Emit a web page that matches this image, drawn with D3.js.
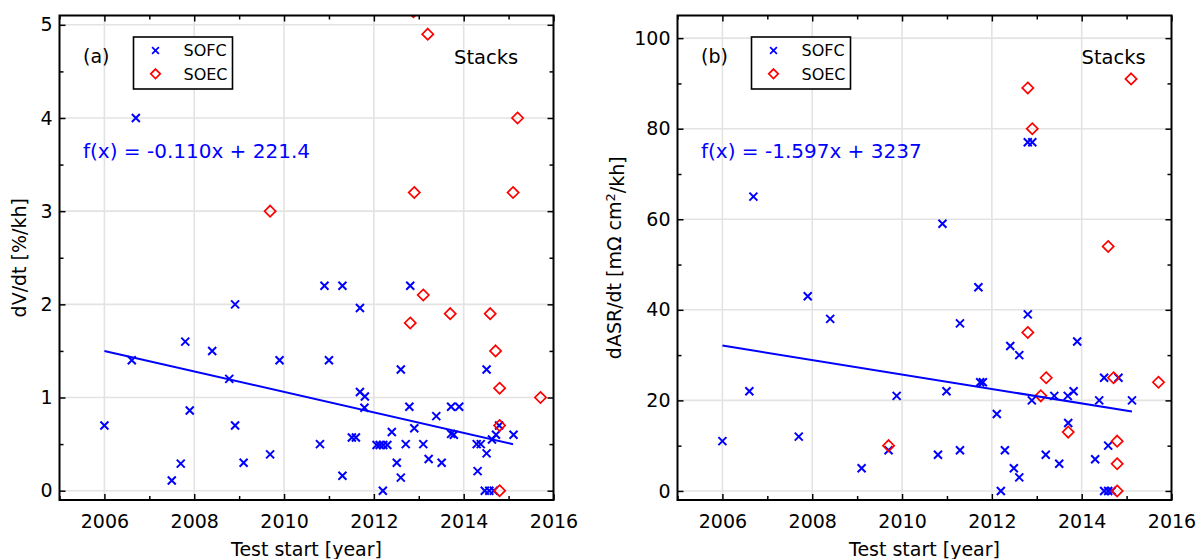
<!DOCTYPE html>
<html>
<head>
<meta charset="utf-8">
<script src="https://cdn.jsdelivr.net/npm/d3@7"></script>
<style>
body { margin: 0; background: #fff; }
text { font-family: "DejaVu Sans", sans-serif; }
</style>
</head>
<body>
<svg id="chart" width="1197" height="559"></svg>
<script>
"use strict";

// x axis (test start year), shared by both panels
var yearDomain = [2005, 2016];
var yearTicks = [2006, 2008, 2010, 2012, 2014, 2016];
var yearMinor = [2005, 2007, 2009, 2011, 2013, 2015];

// panel (a): voltage degradation dV/dt [%/kh]
var dvDomain = [-0.1, 5.1];
var dvTicks = [0, 1, 2, 3, 4, 5];
var dvMinor = [0.5, 1.5, 2.5, 3.5, 4.5];

var dvSofc = [
    [2006.00, 0.70], [2006.61, 1.40], [2006.70, 4.00], [2007.50, 0.11],
    [2007.70, 0.29], [2007.80, 1.60], [2007.90, 0.86], [2008.40, 1.50],
    [2008.78, 1.20], [2008.91, 2.00], [2008.91, 0.70], [2009.10, 0.30],
    [2009.69, 0.39], [2009.90, 1.40], [2010.80, 0.50], [2010.90, 2.20],
    [2011.00, 1.40], [2011.30, 2.20], [2011.30, 0.16], [2011.51, 0.57],
    [2011.60, 0.57], [2011.69, 1.96], [2011.69, 1.06], [2011.80, 1.01],
    [2011.79, 0.89], [2012.06, 0.49], [2012.13, 0.49], [2012.21, 0.49],
    [2012.30, 0.49], [2012.20, 0.00], [2012.40, 0.63], [2012.51, 0.30],
    [2012.60, 1.30], [2012.60, 0.14], [2012.71, 0.50], [2012.81, 2.20],
    [2012.79, 0.90], [2012.90, 0.67], [2013.10, 0.50], [2013.22, 0.34],
    [2013.39, 0.80], [2013.51, 0.30], [2013.72, 0.90], [2013.90, 0.90],
    [2013.72, 0.61], [2013.78, 0.60], [2014.29, 0.50], [2014.38, 0.50],
    [2014.31, 0.21], [2014.51, 0.40], [2014.51, 1.30], [2014.63, 0.55],
    [2014.72, 0.60], [2014.79, 0.70], [2014.47, 0.00], [2014.57, 0.00],
    [2014.67, 0.00], [2015.11, 0.60]
];

var dvSoec = [
    [2009.69, 3.00], [2012.81, 1.80], [2012.90, 3.20], [2012.88, 5.14],
    [2013.10, 2.10], [2013.20, 4.90], [2013.70, 1.90], [2014.59, 1.90],
    [2014.71, 1.50], [2014.80, 1.10], [2014.80, 0.70], [2014.80, 0.00],
    [2015.10, 3.20], [2015.20, 4.00], [2015.71, 1.00]
];

// linear fit: slope, start year / value, end year
var dvFit = [-0.110, 2006, 1.50, 2015.1];

// panel (b): area specific resistance degradation dASR/dt
var asrDomain = [-2, 105];
var asrTicks = [0, 20, 40, 60, 80, 100];
var asrMinor = [10, 30, 50, 70, 90];

var asrSofc = [
    [2006.00, 11], [2006.60, 22], [2006.69, 65], [2007.70, 12],
    [2007.90, 43], [2008.40, 38], [2009.10, 5], [2009.70, 9],
    [2009.88, 21], [2010.80, 8], [2010.90, 59], [2010.99, 22],
    [2011.29, 37], [2011.29, 9], [2011.70, 45], [2011.74, 24],
    [2011.80, 24], [2012.11, 17], [2012.20, 0], [2012.29, 9],
    [2012.41, 32], [2012.49, 5], [2012.61, 30], [2012.61, 3],
    [2012.80, 39], [2012.80, 77], [2012.90, 77], [2012.89, 20],
    [2013.20, 8], [2013.39, 21], [2013.50, 6], [2013.69, 21],
    [2013.70, 15], [2013.82, 22], [2013.90, 33], [2014.30, 7],
    [2014.39, 20], [2014.50, 25], [2014.82, 25], [2014.59, 10],
    [2014.50, 0], [2014.59, 0], [2014.67, 0], [2015.12, 20]
];

var asrSoec = [
    [2009.70, 10], [2012.80, 89], [2012.90, 80], [2012.80, 35],
    [2013.09, 21], [2013.21, 25], [2013.70, 13], [2014.59, 54],
    [2014.71, 25], [2014.79, 11], [2014.79, 6], [2014.79, 0],
    [2015.10, 91], [2015.71, 24]
];

var asrFit = [-1.597, 2006, 32.1, 2015.12];

var legendLabels = ['SOFC', 'SOEC'];

var BLUE = '#0000ff';
var RED = '#ff0000';
var CROSS = 'M-4,-4L4,4M4,-4L-4,4';
var DIAMOND = 'M0,-5.6L5.6,0L0,5.6L-5.6,0Z';

var svg = d3.select('#chart');

function drawPanel(o) {
    var w = o.width, h = o.height;
    var g = svg.append('g').attr('transform', `translate(${o.left},${o.top})`);

    var x = d3.scaleLinear().domain(yearDomain).range([0, w]);
    var y = d3.scaleLinear().domain(o.yDomain).range([h, 0]);

    g.append('clipPath').attr('id', 'clip-' + o.id)
        .append('rect').attr('width', w).attr('height', h);

    // grid
    g.append('g').selectAll('line')
        .data(yearTicks.filter(d => d < yearDomain[1]))
        .join('line')
        .attr('x1', d => x(d)).attr('x2', d => x(d))
        .attr('y1', 0).attr('y2', h)
        .attr('stroke', '#e3e3e3').attr('stroke-width', 1.6);
    g.append('g').selectAll('line')
        .data(o.yTicks)
        .join('line')
        .attr('x1', 0).attr('x2', w)
        .attr('y1', d => y(d)).attr('y2', d => y(d))
        .attr('stroke', '#e3e3e3').attr('stroke-width', 1.6);

    // axes, ticks pointing inward on all sides
    function styleAxis(sel) {
        sel.select('.domain').remove();
        sel.selectAll('.tick line').attr('stroke', '#000').attr('stroke-width', 1.5);
        sel.selectAll('.tick text').attr('fill', '#000')
            .style('font-family', '"DejaVu Sans", sans-serif').style('font-size', '19px');
    }

    g.append('g').attr('transform', `translate(0,${h})`)
        .call(d3.axisBottom(x).tickValues(yearTicks).tickFormat(d3.format('d')).tickSize(-6).tickPadding(15))
        .call(styleAxis);
    g.append('g').attr('transform', `translate(0,${h})`)
        .call(d3.axisBottom(x).tickValues(yearMinor).tickFormat('').tickSize(-4))
        .call(styleAxis);
    g.append('g')
        .call(d3.axisTop(x).tickValues(yearTicks).tickFormat('').tickSize(-6))
        .call(styleAxis);
    g.append('g')
        .call(d3.axisTop(x).tickValues(yearMinor).tickFormat('').tickSize(-4))
        .call(styleAxis);

    g.append('g')
        .call(d3.axisLeft(y).tickValues(o.yTicks).tickFormat(d3.format('d')).tickSize(-6).tickPadding(7))
        .call(styleAxis);
    g.append('g')
        .call(d3.axisLeft(y).tickValues(o.yMinor).tickFormat('').tickSize(-4))
        .call(styleAxis);
    g.append('g').attr('transform', `translate(${w},0)`)
        .call(d3.axisRight(y).tickValues(o.yTicks).tickFormat('').tickSize(-6))
        .call(styleAxis);
    g.append('g').attr('transform', `translate(${w},0)`)
        .call(d3.axisRight(y).tickValues(o.yMinor).tickFormat('').tickSize(-4))
        .call(styleAxis);

    // points
    var pts = g.append('g').attr('clip-path', `url(#clip-${o.id})`);
    pts.selectAll('.sofc')
        .data(o.sofc)
        .join('path')
        .attr('class', 'sofc')
        .attr('d', CROSS)
        .attr('transform', d => `translate(${x(d[0])},${y(d[1])})`)
        .attr('fill', 'none').attr('stroke', BLUE).attr('stroke-width', 2);
    pts.selectAll('.soec')
        .data(o.soec)
        .join('path')
        .attr('class', 'soec')
        .attr('d', DIAMOND)
        .attr('transform', d => `translate(${x(d[0])},${y(d[1])})`)
        .attr('fill', 'none').attr('stroke', RED).attr('stroke-width', 1.7);

    // fit line
    var f = o.fit;
    var fitPts = [[f[1], f[2]], [f[3], f[2] + f[0] * (f[3] - f[1])]];
    pts.append('path')
        .datum(fitPts)
        .attr('d', d3.line().x(d => x(d[0])).y(d => y(d[1])))
        .attr('fill', 'none').attr('stroke', BLUE).attr('stroke-width', 2);

    // frame
    g.append('rect').attr('width', w).attr('height', h)
        .attr('fill', 'none').attr('stroke', '#000').attr('stroke-width', 2);

    // legend
    var lg = g.append('g').attr('transform', 'translate(74,21.5)');
    lg.append('rect').attr('width', 99).attr('height', 52)
        .attr('fill', '#fff').attr('stroke', '#000').attr('stroke-width', 1.6);
    var items = lg.selectAll('g.item')
        .data(legendLabels)
        .join('g')
        .attr('class', 'item')
        .attr('transform', (d, i) => `translate(0,${13.5 + i * 23.3})`);
    items.append('path')
        .attr('transform', 'translate(22,0) scale(0.85)')
        .attr('d', (d, i) => i === 0 ? CROSS : DIAMOND)
        .attr('fill', 'none')
        .attr('stroke', (d, i) => i === 0 ? BLUE : RED)
        .attr('stroke-width', 2);
    items.append('text')
        .attr('x', 50).attr('dy', '0.36em')
        .style('font-size', '16px')
        .text(d => d);

    g.append('text').attr('x', 23.5).attr('y', 47.5)
        .style('font-size', '19px').text(o.label);
    g.append('text').attr('x', o.stacksX).attr('y', 48.5)
        .style('font-size', '19.5px').text('Stacks');
    g.append('text').attr('x', 23.5).attr('y', 142.5)
        .attr('fill', BLUE)
        .style('font-size', '20px').text(o.fitText);

    // axis titles
    g.append('text')
        .attr('x', w / 2).attr('y', h + 56)
        .attr('text-anchor', 'middle')
        .style('font-size', '19px')
        .text('Test start [year]');

    var yt = g.append('text')
        .attr('transform', `translate(${o.yTitleX},${h / 2}) rotate(-90)`)
        .attr('text-anchor', 'middle')
        .style('font-size', '19px');
    o.yTitle(yt);
}

drawPanel({
    id: 'a', left: 59.5, top: 15.5, width: 494, height: 484.5,
    yDomain: dvDomain, yTicks: dvTicks, yMinor: dvMinor,
    sofc: dvSofc, soec: dvSoec, fit: dvFit,
    label: '(a)', stacksX: 394.5,
    fitText: 'f(x) = -0.110x + 221.4',
    yTitleX: -33.7,
    yTitle: t => t.text('dV/dt [%/kh]')
});

drawPanel({
    id: 'b', left: 677.5, top: 15.5, width: 494, height: 484.5,
    yDomain: asrDomain, yTicks: asrTicks, yMinor: asrMinor,
    sofc: asrSofc, soec: asrSoec, fit: asrFit,
    label: '(b)', stacksX: 404,
    fitText: 'f(x) = -1.597x + 3237',
    yTitleX: -56.7,
    yTitle: t => {
        t.append('tspan').text('dASR/dt [m\u03a9 cm');
        t.append('tspan').attr('dy', '-0.45em').style('font-size', '13px').text('2');
        t.append('tspan').attr('dy', '0.45em').text('/kh]');
    }
});
</script>
</body>
</html>
